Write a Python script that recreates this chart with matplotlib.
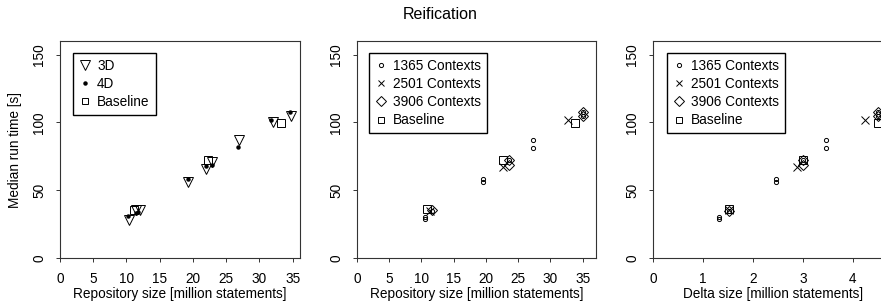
import matplotlib
matplotlib.use('Agg')
import matplotlib.pyplot as plt
from matplotlib.lines import Line2D

plt.rcParams['font.family'] = ['Liberation Sans', 'DejaVu Sans']

# ---------------- data ----------------
# panel 1: repository size vs median run time
tri3d_x = [10.4, 11.5, 12.0, 19.3, 21.9, 22.9, 26.9, 32.1, 34.7]
tri3d_y = [28.3, 35.2, 35.2, 56.1, 65.9, 70.8, 86.8, 100.3, 104.5]
dot4d_x = [10.3, 11.4, 11.7, 19.3, 21.9, 22.8, 26.8, 31.8, 34.6]
dot4d_y = [30.7, 33.2, 34.0, 58.5, 67.6, 68.8, 81.9, 101.5, 107.7]
base1_x = [11.1, 22.2, 33.2]
base1_y = [35.7, 72.0, 99.6]

# panel 2: repository size, per context count
c1365_x = [10.5, 10.5, 11.6, 19.5, 19.5, 23.5, 27.3, 27.3, 35.1, 35.1]
c1365_y = [28.5, 30.2, 35.0, 56.0, 58.0, 72.0, 81.4, 86.8, 105.0, 108.0]
c2501_x = [11.4, 22.6, 32.8]
c2501_y = [35.0, 67.0, 101.5]
c3906_x = [11.6, 23.5, 23.5, 35.1, 35.1]
c3906_y = [35.2, 72.0, 68.4, 108.0, 104.5]
base2_x = [10.9, 22.6, 33.8]
base2_y = [35.9, 72.0, 99.6]

# panel 3: delta size, per context count
d1365_x = [1.31, 1.31, 1.51, 2.45, 2.45, 3.0, 3.45, 3.45, 4.5, 4.5]
d1365_y = [28.5, 30.2, 35.0, 56.0, 58.0, 72.0, 81.4, 86.8, 105.0, 108.0]
d2501_x = [1.51, 2.87, 4.23]
d2501_y = [35.2, 67.0, 101.5]
d3906_x = [1.51, 3.0, 3.0, 4.5, 4.5]
d3906_y = [35.0, 72.0, 68.4, 108.0, 104.5]
dbase_x = [1.51, 3.0, 4.5]
dbase_y = [36.0, 72.0, 99.6]

fs = 9.8

fig = plt.figure(figsize=(8.81, 3.07), dpi=100)
fig.text(0.5, 0.952, 'Reification', ha='center', va='center', fontsize=11.5)

bottom, top = 1 - 258 / 307, 1 - 41 / 307
ax1 = fig.add_axes([60 / 881, bottom, 240 / 881, top - bottom])
ax2 = fig.add_axes([357 / 881, bottom, 239 / 881, top - bottom])
ax3 = fig.add_axes([653 / 881, bottom, 240 / 881, top - bottom])

k = dict(linestyle='none', color='black', markerfacecolor='none', markeredgewidth=0.7)

ax1.plot(tri3d_x, tri3d_y, marker='v', markersize=7, **k)
ax1.plot(dot4d_x, dot4d_y, marker='o', markersize=2.2, linestyle='none', color='black')
ax1.plot(base1_x, base1_y, marker='s', markersize=5.5, **k)

for ax, xs in ((ax2, (c1365_x, c1365_y, c2501_x, c2501_y, c3906_x, c3906_y, base2_x, base2_y)),
               (ax3, (d1365_x, d1365_y, d2501_x, d2501_y, d3906_x, d3906_y, dbase_x, dbase_y))):
    ax.plot(xs[0], xs[1], marker='o', markersize=3, **k)
    ax.plot(xs[2], xs[3], marker='x', markersize=5.5, **k)
    ax.plot(xs[4], xs[5], marker='D', markersize=5.5, **k)
    ax.plot(xs[6], xs[7], marker='s', markersize=5.5, **k)

ax1.set_xlim(0, 36.1)
ax2.set_xlim(0, 37.07)
ax3.set_xlim(0, 4.8)
ax1.set_xticks(range(0, 36, 5))
ax2.set_xticks(range(0, 36, 5))
ax3.set_xticks([0, 1, 2, 3, 4])
ax1.set_xlabel('Repository size [million statements]', fontsize=fs, labelpad=1)
ax2.set_xlabel('Repository size [million statements]', fontsize=fs, labelpad=1)
ax3.set_xlabel('Delta size [million statements]', fontsize=fs, labelpad=1)
ax1.set_ylabel('Median run time [s]', fontsize=fs, labelpad=7)

for ax in (ax1, ax2, ax3):
    ax.set_ylim(0, 160)
    ax.set_yticks([0, 50, 100, 150])
    ax.set_yticklabels(['0', '50', '100', '150'], rotation=90, va='center')
    ax.tick_params(labelsize=fs, length=3, width=0.7, pad=7, color='#333333')
    for s in ax.spines.values():
        s.set_linewidth(0.8)
        s.set_color('#333333')

def leg(ax, items, x0):
    handles = [Line2D([], [], label=l, **st) for l, st in items]
    ax.legend(handles=handles, loc='upper left', bbox_to_anchor=(x0, 0.945),
              fontsize=fs, frameon=True, fancybox=False, edgecolor='black',
              framealpha=1, handlelength=0.8, handletextpad=0.5,
              borderpad=0.45, labelspacing=0.3, borderaxespad=0)

base = dict(linestyle='none', color='black', markerfacecolor='none', markeredgewidth=0.7)
leg(ax1, [('3D', dict(marker='v', markersize=6.5, **base)),
          ('4D', dict(marker='o', markersize=2.2, linestyle='none', color='black')),
          ('Baseline', dict(marker='s', markersize=5, **base))], 0.055)
ctx = [('1365 Contexts', dict(marker='o', markersize=3, **base)),
       ('2501 Contexts', dict(marker='x', markersize=5, **base)),
       ('3906 Contexts', dict(marker='D', markersize=5, **base)),
       ('Baseline', dict(marker='s', markersize=5, **base))]
leg(ax2, ctx, 0.05)
leg(ax3, ctx, 0.06)

fig.savefig('out.png', dpi=100)
